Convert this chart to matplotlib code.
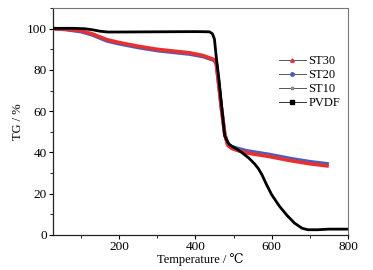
import numpy as np
import matplotlib
matplotlib.use('Agg')
import matplotlib.pyplot as plt
from matplotlib.ticker import MultipleLocator

plt.rcParams['font.family'] = ['Liberation Serif', 'DejaVu Serif']

# PVDF
t_pvdf = [30, 80, 110, 130, 150, 170, 200, 300, 400, 437, 445, 450, 455, 462, 468, 477, 485,
          490, 500, 510, 520, 540, 555, 565, 575, 586, 600, 620, 640, 660, 680, 695, 720, 750, 800]
tg_pvdf = [100.2, 100.2, 100.0, 99.5, 98.8, 98.4, 98.4, 98.5, 98.6, 98.5, 97.5, 95.0, 86.0, 75.0,
           64.0, 48.0, 45.0, 43.7, 42.5, 41.5, 40.2, 37.3, 34.5, 32.2, 29.0, 24.6, 19.5, 14.0, 9.5,
           5.7, 3.2, 2.5, 2.5, 2.8, 2.8]

# ST30 / ST20 / ST10
t_st = [30, 60, 100, 130, 168, 200, 250, 300, 350, 385, 420, 450, 455, 462, 468, 477, 485,
        495, 510, 534, 594, 650, 700, 745]
tg_st30 = [100.0, 99.8, 99.0, 97.5, 94.7, 93.3, 91.5, 90.0, 89.0, 88.3, 87.0, 85.0, 83.0, 72.0,
           62.0, 49.0, 43.5, 42.0, 41.0, 39.8, 38.0, 36.0, 34.5, 33.5]
tg_st20 = [100.0, 99.6, 98.6, 97.0, 94.1, 92.7, 90.9, 89.4, 88.4, 87.7, 86.5, 84.6, 83.0, 72.0,
           62.0, 49.0, 44.0, 42.8, 42.0, 40.8, 39.0, 37.0, 35.5, 34.5]
tg_st10 = [100.0, 99.7, 98.8, 97.2, 94.4, 93.0, 91.2, 89.7, 88.7, 88.0, 86.7, 84.8, 83.0, 72.0,
           62.0, 49.0, 43.8, 42.4, 41.5, 40.3, 38.5, 36.5, 35.0, 34.0]

fig = plt.figure(figsize=(3.73, 2.70), dpi=100)
ax = fig.add_axes([0.142, 0.130, 0.791, 0.840])

ax.plot(t_st, tg_st20, color='#4a5cc0', lw=2.6, label='ST20', zorder=2)
ax.plot(t_st, tg_st10, color='#888888', lw=0.8, label='ST10', zorder=2)
ax.plot(t_st, tg_st30, color='#e83030', lw=2.6, label='ST30', zorder=3)
ax.plot(t_pvdf, tg_pvdf, color='black', lw=2.0, label='PVDF', zorder=4)

# legend handles: thin line with a small marker in the middle
leg_h = [
    plt.Line2D([], [], color='#555555', lw=0.7, marker='^', ms=2.5, mfc='#e83030', mec='#e83030'),
    plt.Line2D([], [], color='#555555', lw=0.7, marker='o', ms=2.5, mfc='#4a5cc0', mec='#4a5cc0'),
    plt.Line2D([], [], color='#555555', lw=0.7, marker='*', ms=2.5, mfc='#888888', mec='#888888'),
    plt.Line2D([], [], color='#333333', lw=0.7, marker='s', ms=2.5, mfc='black', mec='black'),
]
ax.legend(leg_h, ['ST30', 'ST20', 'ST10', 'PVDF'], loc='upper left', bbox_to_anchor=(0.735, 0.83),
          frameon=False, fontsize=9, handlelength=2.2, handletextpad=0.2, labelspacing=0.15,
          borderpad=0.2)

ax.set_xlim(27, 800)
ax.set_ylim(0, 110)
ax.xaxis.set_major_locator(MultipleLocator(200))
ax.xaxis.set_minor_locator(MultipleLocator(100))
ax.yaxis.set_major_locator(MultipleLocator(20))
ax.yaxis.set_minor_locator(MultipleLocator(10))
ax.tick_params(which='both', direction='out', labelsize=9.5, top=False, right=False, pad=1.5)
ax.tick_params(which='major', length=3, width=0.8)
ax.tick_params(which='minor', length=2, width=0.6)

for s in ['top', 'right']:
    ax.spines[s].set_color('#777777')
    ax.spines[s].set_linewidth(0.8)
for s in ['left', 'bottom']:
    ax.spines[s].set_color('#222222')
    ax.spines[s].set_linewidth(0.9)

ax.set_xlabel('Temperature / ℃', fontsize=9, labelpad=0)
ax.set_ylabel('TG / %', fontsize=9, labelpad=2)

fig.savefig('out.png', dpi=100)
